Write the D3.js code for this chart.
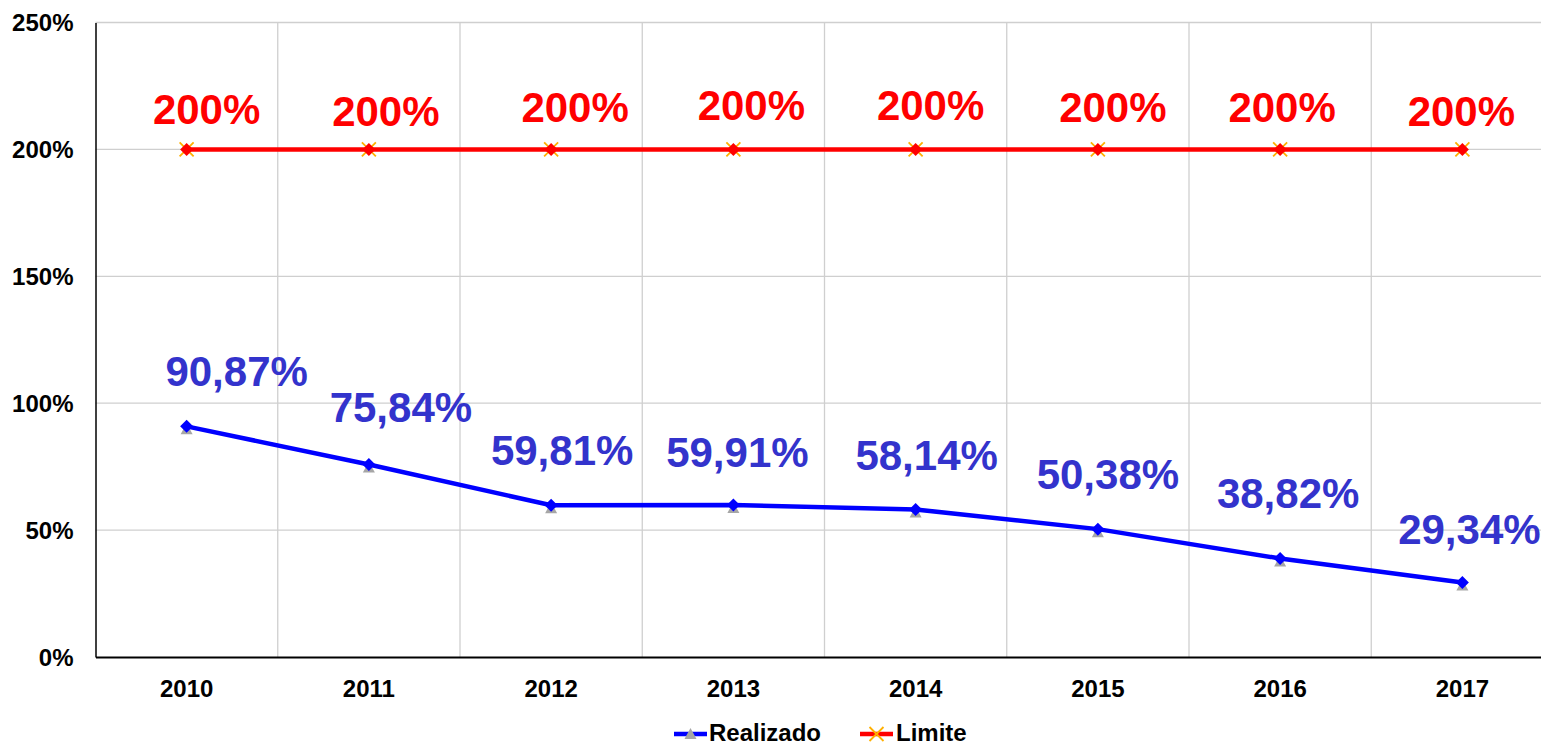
<!DOCTYPE html>
<html><head><meta charset="utf-8">
<script src="https://cdn.jsdelivr.net/npm/d3@7"></script>
<style>
html,body{margin:0;padding:0;background:#fff;overflow:hidden;}
svg{display:block;font-family:"Liberation Sans",Arial,sans-serif;font-weight:bold;}
</style></head>
<body>
<svg id="chart" width="1541" height="746"></svg>
<script>
const years = ["2010","2011","2012","2013","2014","2015","2016","2017"];
const realizado = [90.87, 75.84, 59.81, 59.91, 58.14, 50.38, 38.82, 29.34];
const limite = [200, 200, 200, 200, 200, 200, 200, 200];
const yTicks = [0, 50, 100, 150, 200, 250];
const seriesNames = ["Realizado", "Limite"];
// label nudges (dx, dy in px) as seen in the reference
const realLabelDx = [50, 32, 11, 4, 11, 10, 8, 7];
const realLabelDy = [-40, -43, -40, -38, -39, -40, -50, -39];
const limLabelDx = [20, 17, 24, 18, 15, 15, 2, -1];
const limLabelDy = [-25, -23, -27, -29, -29, -27, -27, -23];

(function () {
const svg = d3.select("#chart");
const pLeft = 95.5, pRight = 1553.5, pTop = 22.5, pBottom = 657;
const x = d3.scaleBand().domain(years).range([pLeft, pRight]);
const y = d3.scaleLinear().domain([0, 250]).range([pBottom, pTop]);
const fmt = v => v.toFixed(2).replace(".", ",") + "%";

svg.append("g").selectAll("line").data(yTicks.filter(d => d > 0)).join("line")
  .attr("x1", pLeft).attr("x2", 1541).attr("y1", d => y(d)).attr("y2", d => y(d))
  .attr("stroke", "#cfcfcf").attr("stroke-width", 1.3);
svg.append("g").selectAll("line").data(years.slice(1)).join("line")
  .attr("x1", d => x(d)).attr("x2", d => x(d)).attr("y1", pTop).attr("y2", pBottom)
  .attr("stroke", "#cfcfcf").attr("stroke-width", 1.3);

const yAxis = svg.append("g").attr("transform", `translate(${pLeft},0)`)
  .call(d3.axisLeft(y).tickValues(yTicks).tickSize(0).tickPadding(22).tickFormat(d => d + "%"));
yAxis.select(".domain").attr("stroke", "#000").attr("stroke-width", 1.5);
yAxis.selectAll("text").attr("font-size", 24).attr("font-weight", "bold").attr("fill", "#000")
  .attr("font-family", "Liberation Sans, Arial, sans-serif").attr("dy", "0.35em");

const xAxis = svg.append("g").attr("transform", `translate(0,${pBottom})`)
  .call(d3.axisBottom(x).tickSize(0).tickPadding(23));
xAxis.select(".domain").attr("stroke", "#000").attr("stroke-width", 2.2);
xAxis.selectAll("text").attr("font-size", 24).attr("font-weight", "bold").attr("fill", "#000")
  .attr("font-family", "Liberation Sans, Arial, sans-serif");

const cx = d => x(d) + x.bandwidth() / 2;

svg.append("path").datum(limite)
  .attr("fill", "none").attr("stroke", "#ff0000").attr("stroke-width", 4.5)
  .attr("d", d3.line().x((d, i) => cx(years[i])).y(d => y(d)));
svg.append("path").datum(realizado)
  .attr("fill", "none").attr("stroke", "#0000ff").attr("stroke-width", 4.5)
  .attr("d", d3.line().x((d, i) => cx(years[i])).y(d => y(d)));

function triangle(g, px, py) {
  g.append("path").attr("d", `M${px},${py-5} L${px+6},${py+6} L${px-6},${py+6} Z`).attr("fill", "#a6a6a6");
}
function diamond(g, px, py, col, r) {
  g.append("path").attr("d", `M${px},${py-r} L${px+r},${py} L${px},${py+r} L${px-r},${py} Z`).attr("fill", col);
}
function xmark(g, px, py) {
  g.append("path").attr("d", `M${px-7},${py-7} L${px+7},${py+7} M${px+7},${py-7} L${px-7},${py+7}`)
    .attr("stroke", "#ffb000").attr("stroke-width", 1.8);
}

const mk = svg.append("g");
realizado.forEach((v, i) => {
  const px = cx(years[i]), py = y(v);
  triangle(mk, px, py + 2);
  diamond(mk, px, py, "#0000ff", 6.5);
});
limite.forEach((v, i) => {
  const px = cx(years[i]), py = y(v);
  xmark(mk, px, py);
  diamond(mk, px, py, "#ff0000", 6.5);
});

svg.append("g").selectAll("text").data(realizado).join("text")
  .attr("x", (d, i) => cx(years[i]) + realLabelDx[i])
  .attr("y", (d, i) => y(d) + realLabelDy[i])
  .attr("text-anchor", "middle").attr("font-size", 42).attr("fill", "#3333cc")
  .text(d => fmt(d));
svg.append("g").selectAll("text").data(limite).join("text")
  .attr("x", (d, i) => cx(years[i]) + limLabelDx[i])
  .attr("y", (d, i) => y(d) + limLabelDy[i])
  .attr("text-anchor", "middle").attr("font-size", 42).attr("fill", "#ff0000")
  .text(d => d + "%");

const lg = svg.append("g");
const ly = 734;
lg.append("line").attr("x1", 674).attr("x2", 707).attr("y1", ly).attr("y2", ly)
  .attr("stroke", "#0000ff").attr("stroke-width", 4.5);
triangle(lg, 690.5, ly - 1);
lg.append("text").attr("x", 709).attr("y", ly).attr("dy", "0.3em").attr("font-size", 24)
  .attr("fill", "#000").text(seriesNames[0]);
lg.append("line").attr("x1", 860).attr("x2", 893).attr("y1", ly).attr("y2", ly)
  .attr("stroke", "#ff0000").attr("stroke-width", 4.5);
xmark(lg, 876.5, ly);
lg.append("text").attr("x", 896).attr("y", ly).attr("dy", "0.3em").attr("font-size", 24)
  .attr("fill", "#000").text(seriesNames[1]);
})();
</script>
</body></html>
